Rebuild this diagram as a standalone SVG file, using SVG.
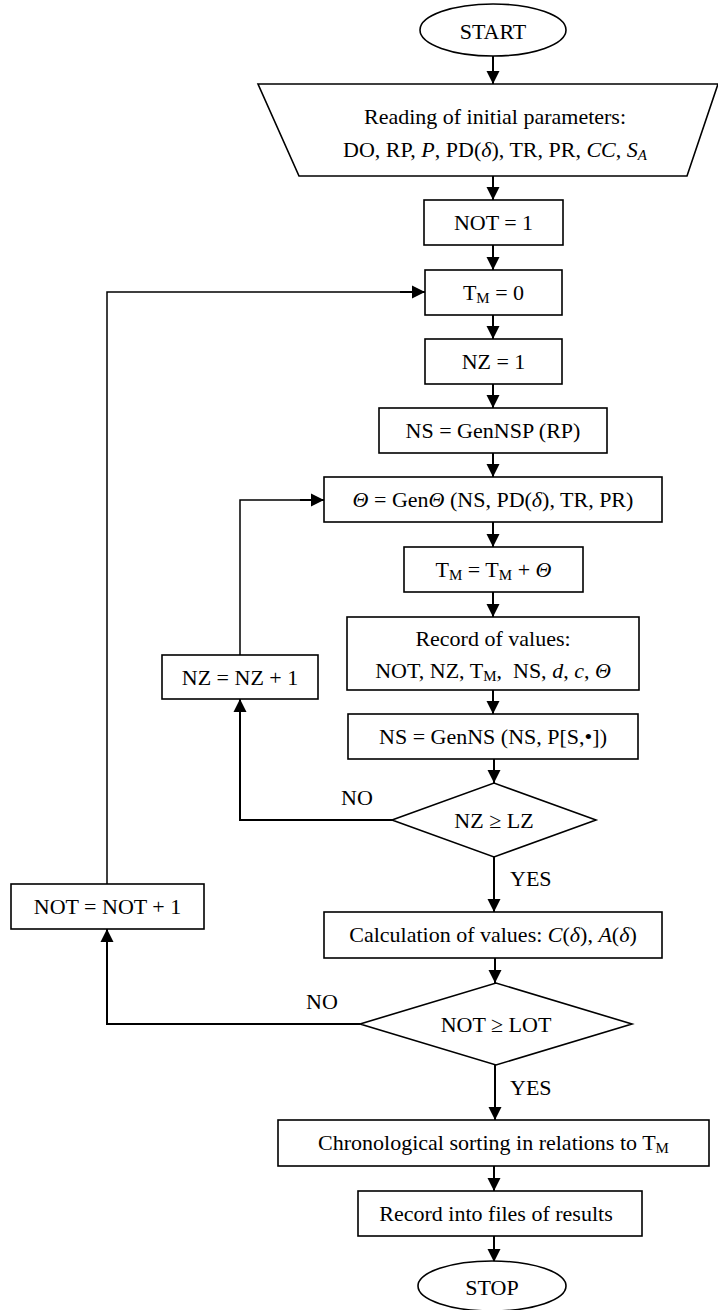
<svg xmlns="http://www.w3.org/2000/svg" width="718" height="1310" viewBox="0 0 718 1310">
<style>
text{font-family:"Liberation Serif","Times New Roman",serif;font-size:22px;fill:#000;text-anchor:middle}
.n{fill:#fff;stroke:#000;stroke-width:1.6}
.c{fill:none;stroke:#000;stroke-width:2}
.t{fill:none;stroke:#000;stroke-width:1.5}
.i{font-style:italic}
.s{font-size:15px}
.l{text-anchor:start}
</style>
<defs>
<marker id="a" markerUnits="userSpaceOnUse" markerWidth="14" markerHeight="14" viewBox="0 0 14 14" refX="13" refY="7" orient="auto">
<path d="M0,0.5 L13,7 L0,13.5 Z" fill="#000"/>
</marker>
</defs>
<rect width="718" height="1310" fill="#fff"/>
<g id="connectors">
<path class="c" d="M493,56 V84" marker-end="url(#a)"/>
<path class="c" d="M493,176 V200" marker-end="url(#a)"/>
<path class="c" d="M493,245 V270" marker-end="url(#a)"/>
<path class="c" d="M493,315 V339" marker-end="url(#a)"/>
<path class="c" d="M493,384 V408" marker-end="url(#a)"/>
<path class="c" d="M493,453 V477" marker-end="url(#a)"/>
<path class="c" d="M493,522 V547" marker-end="url(#a)"/>
<path class="c" d="M493,592 V617" marker-end="url(#a)"/>
<path class="c" d="M493,690 V714" marker-end="url(#a)"/>
<path class="c" d="M494,759 V783" marker-end="url(#a)"/>
<path class="c" d="M494,857 V912" marker-end="url(#a)"/>
<path class="c" d="M392,820 H240 V699" marker-end="url(#a)"/>
<path class="t" d="M240,655 V500 H310"/>
<path class="c" d="M300,500 H324" marker-end="url(#a)"/>
<path class="c" d="M495,958 V983" marker-end="url(#a)"/>
<path class="c" d="M360,1024 H107 V929" marker-end="url(#a)"/>
<path class="t" d="M107,884 V292 H410"/>
<path class="c" d="M400,292 H425" marker-end="url(#a)"/>
<path class="c" d="M495,1065 V1120" marker-end="url(#a)"/>
<path class="c" d="M494,1166 V1191" marker-end="url(#a)"/>
<path class="c" d="M494,1236 V1262" marker-end="url(#a)"/>
<text class="l" x="341" y="805">NO</text>
<text class="l" x="306" y="1009">NO</text>
<text class="l" x="510" y="886">YES</text>
<text class="l" x="510" y="1095">YES</text>
</g>
<g id="start">
<ellipse class="n" cx="493" cy="30" rx="73" ry="26"/>
<text x="493" y="39">START</text>
</g>
<g id="read">
<polygon class="n" points="258,84 718,84 687,176 299,176"/>
<text x="495" y="124">Reading of initial parameters:</text>
<text x="495" y="157">DO, RP, <tspan class="i">P</tspan>, PD(<tspan class="i">δ</tspan>), TR, PR, <tspan class="i">CC</tspan>, <tspan class="i">S</tspan><tspan class="i s" dy="3">A</tspan></text>
</g>
<g id="not1">
<rect class="n" x="424" y="200" width="139" height="45"/>
<text x="493.5" y="230">NOT = 1</text>
</g>
<g id="tm0">
<rect class="n" x="425" y="270" width="137" height="45"/>
<text x="493.5" y="300">T<tspan class="s" dy="3">M</tspan><tspan dy="-3"> = 0</tspan></text>
</g>
<g id="nz1">
<rect class="n" x="425" y="339" width="137" height="45"/>
<text x="493.5" y="369">NZ = 1</text>
</g>
<g id="gennsp">
<rect class="n" x="379" y="408" width="228" height="45"/>
<text x="493" y="438">NS = GenNSP (RP)</text>
</g>
<g id="gentheta">
<rect class="n" x="324" y="477" width="338" height="45"/>
<text x="493" y="507"><tspan class="i">Θ</tspan> = Gen<tspan class="i">Θ</tspan> (NS, PD(<tspan class="i">δ</tspan>), TR, PR)</text>
</g>
<g id="tmplus">
<rect class="n" x="404" y="547" width="179" height="45"/>
<text x="493.5" y="577">T<tspan class="s" dy="3">M</tspan><tspan dy="-3"> = T</tspan><tspan class="s" dy="3">M</tspan><tspan dy="-3"> + </tspan><tspan class="i">Θ</tspan></text>
</g>
<g id="record">
<rect class="n" x="347" y="617" width="292" height="73"/>
<text x="493" y="646">Record of values:</text>
<text x="493" y="678">NOT, NZ, T<tspan class="s" dy="3">M</tspan><tspan dy="-3">,&#160; NS, </tspan><tspan class="i">d</tspan>, <tspan class="i">c</tspan>, <tspan class="i">Θ</tspan></text>
</g>
<g id="nzplus">
<rect class="n" x="162" y="655" width="156" height="44"/>
<text x="240" y="685">NZ = NZ + 1</text>
</g>
<g id="genns">
<rect class="n" x="348" y="714" width="290" height="45"/>
<text x="493" y="744">NS = GenNS (NS, P[S,•])</text>
</g>
<g id="d1">
<polygon class="n" points="392,820 494,783 596,820 494,857"/>
<text x="494" y="828">NZ ≥ LZ</text>
</g>
<g id="notplus">
<rect class="n" x="11" y="884" width="193" height="45"/>
<text x="107.5" y="914">NOT = NOT + 1</text>
</g>
<g id="calc">
<rect class="n" x="324" y="912" width="338" height="46"/>
<text x="493" y="942">Calculation of values: <tspan class="i">C</tspan>(<tspan class="i">δ</tspan>), <tspan class="i">A</tspan>(<tspan class="i">δ</tspan>)</text>
</g>
<g id="d2">
<polygon class="n" points="360,1024 496,983 632,1024 496,1065"/>
<text x="496" y="1032">NOT ≥ LOT</text>
</g>
<g id="chrono">
<rect class="n" x="278" y="1120" width="431" height="46"/>
<text x="493.5" y="1150">Chronological sorting in relations to T<tspan class="s" dy="3">M</tspan></text>
</g>
<g id="files">
<rect class="n" x="358" y="1191" width="284" height="45"/>
<text x="496" y="1221">Record into files of results</text>
</g>
<g id="stop">
<ellipse class="n" cx="492" cy="1286" rx="74" ry="25"/>
<text x="492" y="1295">STOP</text>
</g>
</svg>
